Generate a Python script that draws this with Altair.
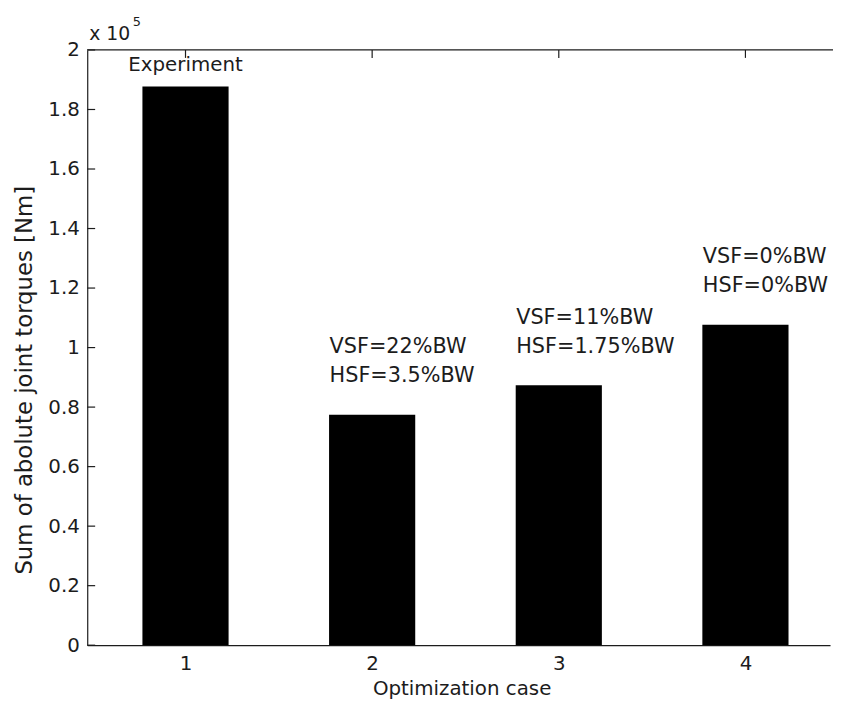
import altair as alt
import pandas as pd

# ---- data ----
cases = [1, 2, 3, 4]
torques = [187700, 77400, 87300, 107700]
line1 = ["Experiment", "VSF=22%BW", "VSF=11%BW", "VSF=0%BW"]
line2 = ["", "HSF=3.5%BW", "HSF=1.75%BW", "HSF=0%BW"]
y_ticks = [0, 20000, 40000, 60000, 80000, 100000, 120000, 140000, 160000, 180000, 200000]
x_ticks = [1, 2, 3, 4]
exponent_base = ["x 10"]
exponent_power = ["5"]
x_title = "Optimization case"
y_title = "Sum of abolute joint torques [Nm]"

# ---- style ----
W, H = 750, 601
PX_PER_CASE = 191
FONT = "DejaVu Sans"
INK = "#1c1c1c"

df = pd.DataFrame({"case": cases, "torque": torques, "line1": line1, "line2": line2})

xscale = alt.Scale(domain=[0.5, 0.5 + W / PX_PER_CASE], nice=False, zero=False)
yscale = alt.Scale(domain=[0, 200000], nice=False)

x_axis = alt.Axis(
    values=x_ticks, format="d", title=x_title, ticks=False, grid=False,
    labelPadding=9, labelFontSize=20, labelFont=FONT, labelColor=INK,
    titleFontSize=20, titleFont=FONT, titleColor=INK, titleFontWeight="normal",
    titleY=44, titleBaseline="middle", titleX=W / 2 + 3, titleAlign="center",
    domainColor=INK, domainWidth=1.2,
)
y_axis = alt.Axis(
    values=y_ticks, labelExpr="datum.value / 100000", title=y_title,
    ticks=False, grid=False, labelPadding=8, labelFontSize=20, labelFont=FONT,
    labelColor=INK, titleFontSize=23, titleFont=FONT, titleColor=INK,
    titleFontWeight="normal", titleX=-63, titleY=333, titleAngle=270,
    titleAlign="center", titleBaseline="middle", domainColor=INK, domainWidth=1.2,
)

base = alt.Chart(df)

bars = base.mark_bar(size=87, color="black").encode(
    x=alt.X("case:Q", scale=xscale, axis=x_axis),
    y=alt.Y("torque:Q", scale=yscale, axis=y_axis),
)

exp_label = base.transform_filter("datum.case == 1").mark_text(
    align="center", baseline="middle", dy=-22, fontSize=20, font=FONT, color=INK
).encode(x="case:Q", y="torque:Q", text="line1:N")

ann1 = base.transform_filter("datum.case > 1").mark_text(
    align="left", baseline="middle", dx=-43, dy=-68, fontSize=21, font=FONT, color=INK
).encode(x="case:Q", y="torque:Q", text="line1:N")

ann2 = base.transform_filter("datum.case > 1").mark_text(
    align="left", baseline="middle", dx=-43, dy=-39, fontSize=21, font=FONT, color=INK
).encode(x="case:Q", y="torque:Q", text="line2:N")

# inward y ticks on the left
ytick_df = pd.DataFrame({"torque": y_ticks})
yticks = alt.Chart(ytick_df).mark_rule(color=INK, strokeWidth=1.2).encode(
    x=alt.value(0), x2=alt.value(8), y="torque:Q"
)

# top border and inward top ticks
top_border = alt.Chart(pd.DataFrame({"k": [0]})).mark_rule(color=INK, strokeWidth=1.2).encode(
    x=alt.value(0), x2=alt.value(W + 3), y=alt.value(0)
)
xtick_df = pd.DataFrame({"case": x_ticks})
top_ticks = alt.Chart(xtick_df).mark_rule(color=INK, strokeWidth=1.2).encode(
    x="case:Q", y=alt.value(0), y2=alt.value(8)
)

# "x 10^5" multiplier
mult = alt.Chart(pd.DataFrame({"s": exponent_base})).mark_text(
    align="left", baseline="middle", fontSize=19, font=FONT, color=INK
).encode(x=alt.value(2), y=alt.value(-16), text="s:N")
power = alt.Chart(pd.DataFrame({"s": exponent_power})).mark_text(
    align="left", baseline="middle", fontSize=13, font=FONT, color=INK
).encode(x=alt.value(46), y=alt.value(-28), text="s:N")

chart = alt.layer(
    bars, exp_label, ann1, ann2, yticks, top_border, top_ticks, mult, power
).properties(
    width=W, height=H,
    autosize=alt.AutoSizeParams(type="none"),
    padding={"left": 80, "top": 39, "right": 3, "bottom": 55},
    background="white",
).configure_view(stroke=None)

chart.save("out.html", embed_options={"renderer": "svg", "actions": False})
